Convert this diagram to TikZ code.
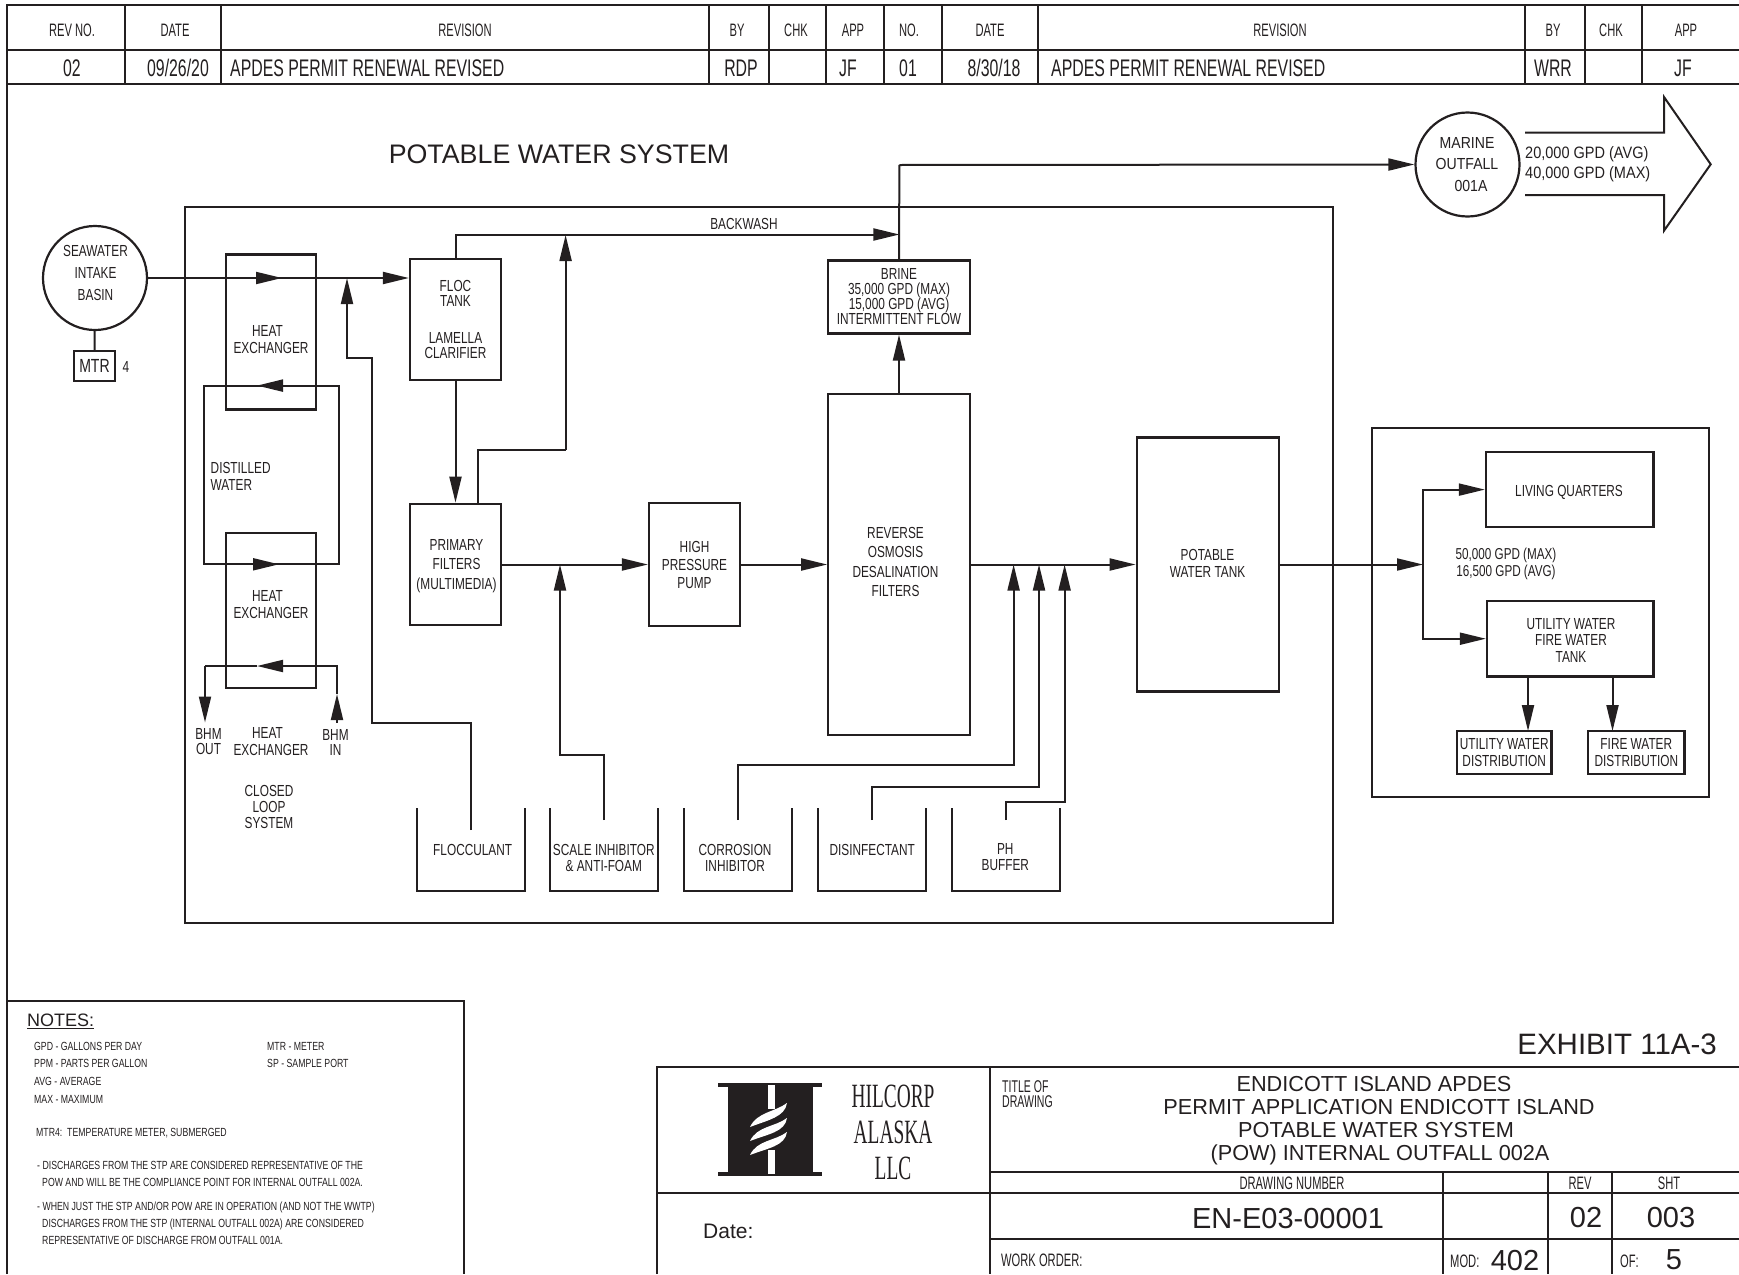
\documentclass[tikz,border=0pt]{standalone}
\usepackage{fontspec}
\setmainfont{Liberation Sans}
\newfontfamily\cadfont[FakeStretch=0.74]{Liberation Sans}
\newfontfamily\nrwfont[FakeStretch=0.62]{Liberation Sans}
\newfontfamily\rowfont[FakeStretch=0.66]{Liberation Sans}
\newfontfamily\midfont[FakeStretch=0.88]{Liberation Sans}
\newfontfamily\logofont[FakeStretch=0.57]{Liberation Serif}
\usetikzlibrary{arrows.meta}
\definecolor{ink}{RGB}{35,31,32}
\begin{document}
\begin{tikzpicture}[x=1pt,y=-1pt,ink,
		wire/.style={draw=ink,line width=2pt},
		arw/.style={wire,-{Triangle[length=26pt,width=12pt]}},
		box/.style={draw=ink,line width=2.2pt,inner sep=0pt,align=center,font=\cadfont\fontsize{16}{17}\selectfont},
		lbl/.style={inner sep=0pt,align=center,font=\cadfont\fontsize{16}{17}\selectfont},
		tight/.style={font=\cadfont\fontsize{16}{15}\selectfont},
		note/.style={inner sep=0pt,anchor=west,font=\cadfont\fontsize{11.8}{12}\selectfont},
		hdr/.style={inner sep=0pt,font=\nrwfont\fontsize{18}{18}\selectfont},
		rowtxt/.style={inner sep=0pt,font=\rowfont\fontsize{24}{24}\selectfont},
		ttl/.style={inner sep=0pt,font=\fontsize{21.7}{23}\selectfont},
		big/.style={inner sep=0pt,font=\fontsize{29}{29}\selectfont}]
	\useasboundingbox (0,0) rectangle (1739,1274);

	% revision table
	\draw[wire] (7,1274) -- (7,5) -- (1739,5);
	\draw[wire] (7,50) -- (1739,50);
	\draw[wire] (7,84) -- (1739,84);
	\foreach \x in {125,221,709,769,826,884,942,1038,1525,1585,1642} {
		\draw[wire] (\x,5) -- (\x,84);
	}
	\foreach \nm/\x/\tx in {a/72/REV NO.,b/175/DATE,c/465/REVISION,d/737/BY,e/796/CHK,f/853/APP,g/909/NO.,h/990/DATE,i/1280/REVISION,j/1553/BY,k/1611/CHK,l/1686/APP} {
		\node[hdr] (hd\nm) at (\x,30) {\tx};
	}
	\foreach \nm/\x/\tx in {a/72/02,b/178/{09/26/20},d/741/RDP,f/848/JF,g/908/01,h/994/{8/30/18},j/1553/WRR,l/1683/JF} {
		\node[rowtxt] (rw\nm) at (\x,68) {\tx};
	}
	\node[rowtxt,anchor=west] (rwc) at (230,68) {APDES PERMIT RENEWAL REVISED};
	\node[rowtxt,anchor=west] (rwi) at (1051,68) {APDES PERMIT RENEWAL REVISED};

	\node[inner sep=0pt,font=\fontsize{26.8}{28}\selectfont] (title) at (559,154) {POTABLE WATER SYSTEM};
	\node[draw=ink,line width=2pt,minimum width=1148pt,minimum height=716pt] (plant) at (759,565) {};

	% intake and heat exchangers
	\node[circle,box,minimum size=104pt] (basin) at (95,278) {};
	\node[lbl,font=\cadfont\fontsize{16}{21.7}\selectfont] (basintxt) at (95.5,273) {SEAWATER\\INTAKE\\BASIN};
	\node[box,minimum width=41pt,minimum height=30pt,font=\cadfont\fontsize{19}{19}\selectfont] (mtr) at (94.5,366) {MTR};
	\node[lbl] (mtrno) at (126,367) {4};
	\draw[wire] (basin) -- (mtr);
	\node[box,minimum width=90pt,minimum height=155pt] (hxa) at (271,332) {};
	\node[box,minimum width=90pt,minimum height=155pt] (hxb) at (271,610.5) {};
	\node[lbl] (hxatxt) at (271,340) {HEAT\hspace*{7pt}\\EXCHANGER};
	\node[lbl] (hxbtxt) at (271,604.5) {HEAT\hspace*{7pt}\\EXCHANGER};
	\node[lbl] (hxctxt) at (271,742) {HEAT\hspace*{7pt}\\EXCHANGER};
	\node[lbl,tight] (bhmout) at (208.5,742) {BHM\\OUT};
	\node[lbl,tight] (bhmin) at (335.5,742) {BHM\\IN};
	\node[lbl,font=\cadfont\fontsize{16}{16.3}\selectfont] (closed) at (269,807) {CLOSED\\LOOP\\SYSTEM};
	\node[lbl,align=left,anchor=west] (dist) at (210.5,476.5) {DISTILLED\\WATER};

	% water path
	\node[box,tight,minimum width=91pt,minimum height=121.5pt] (floc) at (455.5,319.5) {FLOC\\TANK\\[22pt]LAMELLA\\CLARIFIER};
	\node[box,minimum width=91pt,minimum height=121.5pt] (prim) at (455.5,564.5) {};
	\node[lbl] (primtxt) at (456.5,566) {PRIMARY\\[2.5pt]FILTERS\\[2.5pt](MULTIMEDIA)};
	\node[box,minimum width=91pt,minimum height=123pt] (pump) at (694.5,564.5) {HIGH\\[1pt]PRESSURE\\[1pt]PUMP};
	\node[box,minimum width=141.5pt,minimum height=341pt] (ro) at (899,564.5) {};
	\node[lbl] (rotxt) at (895.5,562) {REVERSE\\[2.3pt]OSMOSIS\\[2.3pt]DESALINATION\\[2.3pt]FILTERS};
	\node[box,tight,minimum width=141.5pt,minimum height=73pt] (brine) at (899,297) {BRINE\\35,000 GPD (MAX)\\15,000 GPD (AVG)\\INTERMITTENT FLOW};
	\node[box,minimum width=142pt,minimum height=254pt] (pot) at (1207.7,564.5) {};
	\node[lbl] (pottxt) at (1207.5,563) {POTABLE\\WATER TANK};
	\node[circle,box,minimum size=104pt] (outfall) at (1467.5,164.5) {};
	\node[lbl,font=\midfont\fontsize{16}{21.5}\selectfont] (outfalltxt) at (1467,164.5) {MARINE\\OUTFALL\\\hspace*{8pt}001A};
	\node[inner sep=0pt,anchor=west,align=left,font=\midfont\fontsize{16.5}{20}\selectfont] (rate) at (1525,164.5) {20,000 GPD (AVG)\\40,000 GPD (MAX)};
	\node[lbl] (back) at (744,224) {BACKWASH};

	\coordinate (hxaarw) at (282,278);
	\coordinate (hxaback) at (270,278);
	\coordinate (floctip) at (347,278);
	\draw[arw] (basin.east) -- (hxaarw);
	\draw[arw] (hxaback) -- (floc.west |- basin.east);
	\coordinate (washend) at (899.4,234.5);
	\draw[arw] (floc.north) |- (washend);
	\coordinate (primtop) at (565.6,450);
	\coordinate (primtip) at (565.6,235);
	\draw[wire] (478,503.5) |- (primtop);
	\draw[arw] (primtop) -- (primtip);
	\draw[arw] (floc.south) -- (prim.north);
	\draw[arw] (prim.east) -- (pump.west);
	\draw[arw] (pump.east) -- (ro.west);
	\draw[arw] (ro.north) -- (brine.south);
	\draw[arw] (ro.east) -- (pot.west);
	\coordinate (outelbow) at (899.4,165);
	\draw[wire] (brine.north) -- (outelbow);
	\draw[arw] (outelbow) -- (outfall.west);
	\draw[wire] (1525,132.7) -- (1664,132.7) -- (1664,97) -- (1710.7,164.3) -- (1664,230.7) -- (1664,195) -- (1525,195);

	% distilled water and closed loop
	\coordinate (looptl) at (203.6,385.6);
	\coordinate (loopbr) at (338.6,564.3);
	\draw[wire] (looptl) rectangle (loopbr);
	\coordinate (lpa) at (283,385.6);
	\coordinate (lpb) at (257,385.6);
	\coordinate (lpc) at (253,564.3);
	\coordinate (lpd) at (279,564.3);
	\draw[arw] (lpa) -- (lpb);
	\draw[arw] (lpc) -- (lpd);
	\coordinate (cltail) at (337,722.5);
	\coordinate (clup) at (337,694);
	\coordinate (clcorner) at (337,666);
	\coordinate (clmid) at (257,666);
	\coordinate (clback) at (270,666);
	\coordinate (clleft) at (205,666);
	\coordinate (clout) at (205,722.5);
	\draw[arw] (cltail) -- (clup);
	\draw[wire] (clup) -- (clcorner) -- (clback);
	\draw[arw] (clback) -- (clmid);
	\draw[wire] (clmid) -- (clleft);
	\draw[arw] (clleft) -- (clout);

	% chemical tanks
	\foreach \nm/\x/\tx/\ty/\dx in {flocc/470.7/FLOCCULANT/850/2,scale/603.8/{SCALE INHIBITOR\\\& ANTI-FOAM}/857.5/0,corro/738/{CORROSION\\INHIBITOR}/857.5/-3,disin/872.2/DISINFECTANT/850/0,buff/1006.3/{PH\\BUFFER}/857.5/-1} {
		\node[minimum width=107.5pt,minimum height=82pt,inner sep=0pt] (\nm) at (\x,849.5) {};
		\draw[wire] (\nm.north west) -- (\nm.south west) -- (\nm.south east) -- (\nm.north east);
		\node[lbl,font=\cadfont\fontsize{16}{16}\selectfont] (\nm txt) at (\x+\dx,\ty) {\tx};
	}
	\coordinate (flocport) at (470.5,830);
	\coordinate (flocelbow) at (371.5,722.5);
	\coordinate (flocjog) at (371.5,358);
	\draw[arw] (flocport) |- (flocelbow) -- (flocjog) -| (floctip);
	\coordinate (scaleport) at (604.4,820);
	\coordinate (scaletip) at (560,564.5);
	\draw[arw] (scaleport) |- (560,755) -- (scaletip);
	\coordinate (corport) at (737.5,820);
	\coordinate (cortip) at (1013.6,564.5);
	\draw[arw] (corport) |- (1013.6,765) -- (cortip);
	\coordinate (disport) at (871.7,820);
	\coordinate (distip) at (1039,564.5);
	\draw[arw] (disport) |- (1039,787) -- (distip);
	\coordinate (phport) at (1005.9,820);
	\coordinate (phtip) at (1064.6,564.5);
	\draw[arw] (phport) |- (1064.6,802) -- (phtip);

	% distribution
	\node[draw=ink,line width=2pt,minimum width=337pt,minimum height=369.5pt] (dbox) at (1540.5,612.7) {};
	\node[box,minimum width=167.5pt,minimum height=74.5pt] (lq) at (1569.7,489.6) {};
	\node[lbl] (lqtxt) at (1569,492.5) {LIVING QUARTERS};
	\node[box,minimum width=166.5pt,minimum height=75.5pt] (uwt) at (1570.2,638.7) {};
	\node[lbl,font=\cadfont\fontsize{16}{16.5}\selectfont] (uwttxt) at (1571,640) {UTILITY WATER\\FIRE WATER\\TANK};
	\node[box,font=\cadfont\fontsize{16}{17.5}\selectfont,minimum width=94.5pt,minimum height=43pt] (uwd) at (1504.2,752.5) {UTILITY WATER\\DISTRIBUTION};
	\node[box,font=\cadfont\fontsize{16}{17.5}\selectfont,minimum width=96.5pt,minimum height=43pt] (fwd) at (1636.3,752.5) {FIRE WATER\\DISTRIBUTION};
	\node[lbl,font=\cadfont\fontsize{15.8}{17.8}\selectfont] (dem) at (1506,564) {50,000 GPD (MAX)\\16,500 GPD (AVG)};
	\coordinate (split) at (1423,564.5);
	\draw[arw] (pot.east) -- (split);
	\draw[arw] (split) |- (lq.west);
	\draw[arw] (split) |- (uwt.west);
	\draw[arw] (1528,676.5) -- (1528,731);
	\draw[arw] (1612.5,676.5) -- (1612.5,731);

	% notes
	\draw[wire] (7,1001) -- (463.6,1001) -- (463.6,1274);
	\node[note,font=\fontsize{18}{18}\selectfont] (notes) at (27,1021) {\underline{NOTES:}};
	\foreach \nm/\x/\y/\tx in {na/34/1046.7/GPD - GALLONS PER DAY,nb/34/1063.5/PPM - PARTS PER GALLON,nc/34/1081/AVG - AVERAGE,nd/34/1099/MAX - MAXIMUM,ne/267/1046.7/MTR - METER,nf/267/1063.5/SP - SAMPLE PORT,ng/36/1133.5/{MTR4:\ \ TEMPERATURE METER, SUBMERGED},nh/37/1165.5/- DISCHARGES FROM THE STP ARE CONSIDERED REPRESENTATIVE OF THE,ni/42/1182.5/POW AND WILL BE THE COMPLIANCE POINT FOR INTERNAL OUTFALL 002A.,nj/37/1207.5/{- WHEN JUST THE STP AND/OR POW ARE IN OPERATION (AND NOT THE WWTP)},nk/42/1224/DISCHARGES FROM THE STP (INTERNAL OUTFALL 002A) ARE CONSIDERED,nl/42/1240/REPRESENTATIVE OF DISCHARGE FROM OUTFALL 001A.} {
		\node[note] (\nm) at (\x,\y) {\tx};
	}

	% title block
	\node[inner sep=0pt,anchor=east,font=\fontsize{29.5}{30}\selectfont] (exh) at (1717,1044) {EXHIBIT 11A-3};
	\draw[wire] (657,1274) -- (657,1067) -- (1739,1067);
	\draw[wire] (990,1067) -- (990,1274);
	\draw[wire] (990,1172) -- (1739,1172);
	\draw[wire] (657,1193) -- (1739,1193);
	\draw[wire] (990,1239) -- (1739,1239);
	\draw[wire] (1443,1172) -- (1443,1274);
	\draw[wire] (1548,1172) -- (1548,1274);
	\draw[wire] (1612,1172) -- (1612,1274);
	% logo
	\fill[ink] (718,1083) rectangle (822,1087);
	\fill[ink] (718,1172) rectangle (822,1176);
	\fill[ink] (728,1083) rectangle (813,1176);
	\fill[white] (768,1085) rectangle (775,1109);
	\fill[white] (768,1150) rectangle (775,1174);
	\fill[white] (750,1127) .. controls (757,1112) and (775,1112) .. (787,1103) .. controls (785,1117) and (768,1120) .. (750,1127) -- cycle;
	\fill[white] (750,1141) .. controls (757,1126) and (775,1127) .. (787,1118) .. controls (785,1132) and (768,1134) .. (750,1141) -- cycle;
	\fill[white] (750,1155) .. controls (757,1140) and (775,1141) .. (787,1132) .. controls (785,1146) and (768,1148) .. (750,1155) -- cycle;
	\node[inner sep=0pt,align=center,font=\logofont\fontsize{34}{36}\selectfont] (firm) at (893,1132) {HILCORP\\ALASKA\\LLC};

	\node[inner sep=0pt,anchor=west,align=left,font=\nrwfont\fontsize{17}{15}\selectfont] (tod) at (1002,1094) {TITLE OF\\DRAWING};
	\node[ttl] (tta) at (1374,1084) {ENDICOTT ISLAND APDES};
	\node[ttl] (ttb) at (1379,1107) {PERMIT APPLICATION ENDICOTT ISLAND};
	\node[ttl] (ttc) at (1376,1130) {POTABLE WATER SYSTEM};
	\node[ttl] (ttd) at (1380,1154.5) {(POW) INTERNAL OUTFALL 002A};
	\node[hdr] (dwgh) at (1292,1183) {DRAWING NUMBER};
	\node[hdr] (revh) at (1580,1183) {REV};
	\node[hdr] (shth) at (1669,1183) {SHT};
	\node[big] (dwg) at (1288,1218) {EN-E03-00001};
	\node[big] (rev) at (1586,1217) {02};
	\node[big] (sht) at (1671,1217) {003};
	\node[inner sep=0pt,anchor=west,font=\fontsize{21}{21}\selectfont] (date) at (703,1231) {Date:};
	\node[hdr,anchor=west] (wko) at (1001,1260) {WORK ORDER:};
	\node[hdr,anchor=west] (mod) at (1450,1261) {MOD:};
	\node[big] (modn) at (1515,1260) {402};
	\node[hdr,anchor=west] (off) at (1620,1261) {OF:};
	\node[big] (ofn) at (1674,1260) {5};
\end{tikzpicture}
\end{document}
